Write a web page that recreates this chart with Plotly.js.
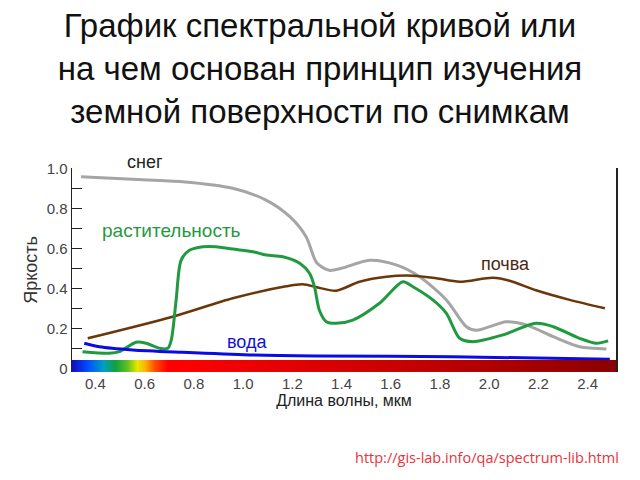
<!DOCTYPE html>
<html><head><meta charset="utf-8">
<script src="https://cdn.plot.ly/plotly-3.0.1.min.js"></script>
<style>html,body{margin:0;padding:0;background:#fff}#chart{width:640px;height:480px}</style>
</head><body><div id="chart"></div>
<script>
// Snow (gray)
const snowX = [0.342,0.55,0.754,0.958,1.095,1.19,1.256,1.30,1.35,1.40,1.514,1.622,1.717,1.826,1.907,1.948,2.07,2.15,2.26,2.367,2.476];
const snowY = [0.958,0.945,0.933,0.90,0.84,0.758,0.658,0.526,0.49,0.50,0.54,0.517,0.458,0.342,0.208,0.19,0.233,0.217,0.158,0.108,0.097];
// Vegetation (green)
const vegX = [0.348,0.457,0.498,0.565,0.606,0.66,0.694,0.708,0.728,0.748,0.782,0.836,0.89,0.958,1.04,1.094,1.161,1.23,1.27,1.29,1.31,1.338,1.378,1.446,1.554,1.649,1.69,1.771,1.826,1.88,1.934,2.056,2.19,2.26,2.367,2.435,2.483];
const vegY = [0.083,0.075,0.083,0.13,0.125,0.10,0.10,0.14,0.34,0.54,0.59,0.608,0.608,0.596,0.583,0.566,0.558,0.525,0.475,0.408,0.29,0.233,0.225,0.241,0.325,0.433,0.408,0.342,0.275,0.15,0.133,0.167,0.225,0.208,0.15,0.125,0.137];
// Soil (brown)
const soilX = [0.369,0.714,0.958,1.175,1.243,1.30,1.378,1.473,1.582,1.69,1.785,1.88,2.015,2.083,2.19,2.327,2.47];
const soilY = [0.15,0.258,0.35,0.41,0.42,0.405,0.388,0.433,0.458,0.463,0.45,0.433,0.453,0.438,0.39,0.342,0.30];
// Water (blue)
const waterX = [0.355,0.416,0.552,0.755,1.026,1.30,1.85,2.49];
const waterY = [0.125,0.108,0.092,0.08,0.067,0.062,0.058,0.045];
// Spectrum band under the axis
const spectrumX = [0.31,0.37,0.43,0.48,0.53,0.57,0.60,0.64,0.69,1.0,1.5,2.0,2.51];
const spectrumColors = ['#1010c8','#0050ff','#00a0c0','#10a040','#60c020','#e8e800','#ffb000','#ff5000','#ff0000','#ee0000','#d00000','#b00000','#8a0000'];
const yTicks = [0,0.2,0.4,0.6,0.8,1.0];
const yTickText = ['0','0.2','0.4','0.6','0.8','1.0'];
const xTicks = [0.4,0.6,0.8,1.0,1.2,1.4,1.6,1.8,2.0,2.2,2.4];

const line = (x,y,color,w) => ({x:x,y:y,type:'scatter',mode:'lines',line:{color:color,width:w,shape:'spline',smoothing:0.8},hoverinfo:'skip',showlegend:false});
const n = spectrumColors.length;
const data = [
  {x:spectrumX, y:[0.5], z:[spectrumX.map((v,i)=>i)], type:'heatmap', yaxis:'y2', xaxis:'x',
   colorscale: spectrumColors.map((c,i)=>[i/(n-1), c]), zsmooth:'best', showscale:false, hoverinfo:'skip'},
  line(snowX, snowY, '#a5a5a5', 3),
  line(soilX, soilY, '#6b3608', 2.5),
  line(vegX, vegY, '#1f9a3e', 3),
  line(waterX, waterY, '#0a0ae6', 3),
  {x:[1.0], y:[1.0], yaxis:'y3', type:'scatter', mode:'markers', marker:{opacity:0}, hoverinfo:'skip', showlegend:false}
];
const yr = [-0.0185, 1.0015];
const layout = {
  width:640, height:480, paper_bgcolor:'#fff', plot_bgcolor:'rgba(0,0,0,0)',
  margin:{l:72, r:24, t:168, b:108},
  font:{family:'Liberation Sans, Arial, sans-serif', color:'#333'},
  title:{text:'График спектральной кривой или<br>на чем основан принцип изучения<br>земной поверхности по снимкам',
    font:{size:33, color:'#111', family:'Liberation Sans, Arial, sans-serif'}, x:0.5, xanchor:'center', xref:'container', yref:'container', y:0.923, yanchor:'top'},
  xaxis:{range:[0.305,2.515], tickvals:xTicks, tickformat:'.1f', ticks:'', showline:false, showgrid:false, zeroline:false,
    tickfont:{size:15, color:'#444'}, ticklabelstandoff:1, automargin:false,
    title:{text:'Длина волны, мкм', font:{size:16, color:'#222'}, standoff:2}},
  yaxis:{range:yr, domain:[0,1], tickvals:yTicks, ticktext:yTickText, ticks:'inside', ticklen:10, tickwidth:1.5, tickcolor:'#222',
    showline:true, linecolor:'#222', linewidth:1.5, showgrid:false, zeroline:false, layer:'below traces',
    minor:{dtick:0.1, ticks:'inside', ticklen:10, tickwidth:1.5, tickcolor:'#222', showgrid:false},
    tickfont:{size:15, color:'#444'}, automargin:false,
    title:{text:'Яркость', font:{size:18, color:'#333'}, standoff:4}},
  yaxis2:{domain:[0,0.059], range:[0,1], visible:false, fixedrange:true},
  yaxis3:{overlaying:'y', side:'right', range:yr, tickvals:[1.0], ticks:'inside', ticklen:9, tickwidth:1.5, tickcolor:'#222',
    showticklabels:false, showline:true, linecolor:'#222', linewidth:1.5, showgrid:false, zeroline:false, layer:'below traces'},
  annotations:[
    {xref:'paper', yref:'paper', x:0.134, y:1.029, xanchor:'center', yanchor:'middle', text:'снег', showarrow:false, font:{size:18, color:'#222'}},
    {x:0.709, y:0.69, text:'растительность', showarrow:false, font:{size:19, color:'#1f9a3e'}},
    {x:2.067, y:0.52, text:'почва', showarrow:false, font:{size:18, color:'#4a2a10'}},
    {x:1.014, y:0.13, text:'вода', showarrow:false, font:{size:18, color:'#1010dd'}},
    {xref:'paper', yref:'paper', x:1.01, y:-0.475, xanchor:'right', text:'http://gis-lab.info/qa/spectrum-lib.html', showarrow:false,
     font:{size:14.5, color:'#e8323c', family:'Open Sans, sans-serif'}}
  ]
};
Plotly.newPlot('chart', data, layout, {displayModeBar:false, staticPlot:true});
</script></body></html>
